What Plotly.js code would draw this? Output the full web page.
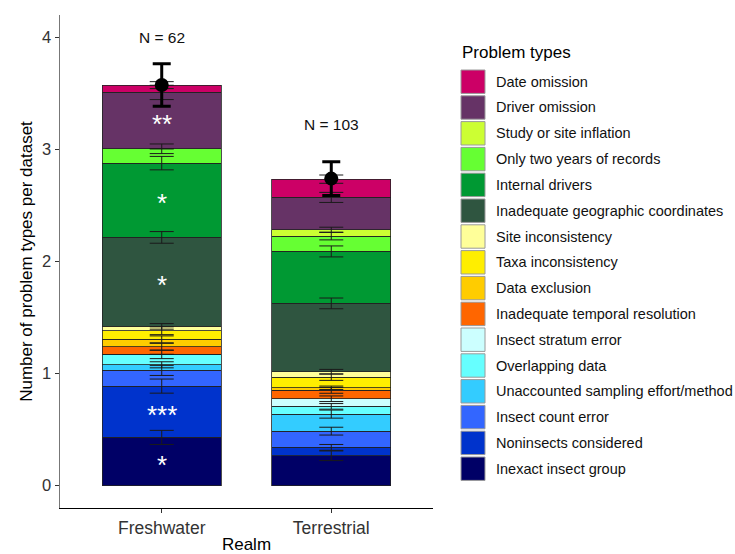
<!DOCTYPE html>
<html>
<head>
<meta charset="utf-8">
<script src="https://cdn.plot.ly/plotly-3.0.1.min.js"></script>
<style>html,body{margin:0;padding:0;background:#fff;}#chart{width:735px;height:554px;}</style>
</head>
<body>
<div id="chart"></div>
<script>
// ---- data (stack order: bottom to top) ----
const categories = ['Freshwater', 'Terrestrial'];
const problemTypes = [
  'Inexact insect group', 'Noninsects considered', 'Insect count error',
  'Unaccounted sampling effort/method', 'Overlapping data', 'Insect stratum error',
  'Inadequate temporal resolution', 'Data exclusion', 'Taxa inconsistency',
  'Site inconsistency', 'Inadequate geographic coordinates', 'Internal drivers',
  'Only two years of records', 'Study or site inflation', 'Driver omission', 'Date omission'
];
const typeColors = [
  '#000066', '#0033CC', '#3366FF', '#33CCFF', '#66FFFF', '#CCFFFF',
  '#FF6600', '#FFCC00', '#FFEE00', '#FFFF99', '#2F5540', '#009933',
  '#66FF33', '#CCFF33', '#663366', '#CC0066'
];
const freshwater = [0.430, 0.458, 0.140, 0.050, 0.093, 0.000, 0.068, 0.066, 0.077, 0.039, 0.794, 0.663, 0.128, 0.000, 0.503, 0.065];
const terrestrial = [0.266, 0.075, 0.145, 0.152, 0.069, 0.068, 0.075, 0.023, 0.095, 0.048, 0.610, 0.464, 0.137, 0.056, 0.289, 0.163];
const freshwaterErr = [0.063, 0.063, 0.045, 0.027, 0.038, 0.000, 0.031, 0.031, 0.035, 0.025, 0.052, 0.060, 0.043, 0.000, 0.064, 0.031];
const terrestrialErr = [0.043, 0.026, 0.035, 0.036, 0.025, 0.025, 0.026, 0.015, 0.029, 0.021, 0.048, 0.049, 0.034, 0.023, 0.045, 0.037];
const freshwaterSig = ['*', '***', '', '', '', '', '', '', '', '', '*', '*', '', '', '**', ''];
const terrestrialSig = ['', '', '', '', '', '', '', '', '', '', '', '', '', '', '', ''];
const totalMean = [3.575, 2.740];
const totalErr = [0.190, 0.150];
const nLabels = ['N = 62', 'N = 103'];
const nLabelY = [4.0, 3.22];

// ---- layout constants ----
const W = 735, H = 554;
const plotL = 60, plotR = 433, plotT = 15, plotB = 508;
const FONT = 'Liberation Sans, Arial, sans-serif';
const px2x = p => (p - plotL) / (plotR - plotL);
const px2y = p => (plotB - p) / (plotB - plotT);

const seriesByCat = [freshwater, terrestrial];
const errByCat = [freshwaterErr, terrestrialErr];
const sigByCat = [freshwaterSig, terrestrialSig];

const traces = problemTypes.map((name, i) => ({
  type: 'bar',
  name: name,
  x: categories,
  y: seriesByCat.map(s => s[i]),
  marker: { color: typeColors[i], line: { color: '#222', width: 0.8 } },
  showlegend: false,
  hoverinfo: 'skip'
}));

// error bars at the cumulative top of each segment
categories.forEach((cat, c) => {
  let acc = 0;
  const tops = seriesByCat[c].map(v => (acc += v));
  traces.push({
    type: 'scatter', mode: 'markers',
    x: tops.map(() => cat), y: tops,
    marker: { size: 1, color: 'rgba(0,0,0,0)' },
    error_y: { type: 'data', array: errByCat[c], color: '#1a1a1a', thickness: 1, width: 12 },
    showlegend: false, hoverinfo: 'skip'
  });
});

// overall mean and its error
traces.push({
  type: 'scatter', mode: 'markers',
  x: categories, y: totalMean,
  marker: { size: 14, color: '#000' },
  error_y: { type: 'data', array: totalErr, color: '#000', thickness: 3, width: 9 },
  showlegend: false, hoverinfo: 'skip'
});

const annotations = [];
const shapes = [];

// N labels
categories.forEach((cat, c) => {
  annotations.push({
    x: cat, y: nLabelY[c], xref: 'x', yref: 'y', text: nLabels[c], showarrow: false,
    font: { family: FONT, size: 15.5, color: '#111' }, xanchor: 'center', yanchor: 'middle'
  });
});

// significance asterisks at segment middles
categories.forEach((cat, c) => {
  let acc = 0;
  seriesByCat[c].forEach((v, i) => {
    const mid = acc + v / 2;
    acc += v;
    if (sigByCat[c][i]) {
      annotations.push({
        x: cat, y: mid, xref: 'x', yref: 'y', text: sigByCat[c][i], showarrow: false,
        font: { family: FONT, size: 26, color: '#fff' }, xanchor: 'center', yanchor: 'middle', yshift: -3
      });
    }
  });
});

// custom legend
annotations.push({
  x: px2x(460), y: px2y(53), xref: 'paper', yref: 'paper', text: 'Problem types', showarrow: false,
  font: { family: FONT, size: 17, color: '#000' }, xanchor: 'left', yanchor: 'middle'
});
const legendOrder = problemTypes.map((_, i) => i).reverse();
const keyTop = 70, keyStep = 25.8, keyH = 23.4, keyL = 461, keyR = 485;
legendOrder.forEach((idx, k) => {
  const t = keyTop + k * keyStep;
  shapes.push({
    type: 'rect', xref: 'paper', yref: 'paper',
    x0: px2x(keyL), x1: px2x(keyR), y0: px2y(t + keyH), y1: px2y(t),
    fillcolor: typeColors[idx], line: { color: '#9a9a9a', width: 1 }, layer: 'above'
  });
  annotations.push({
    x: px2x(493.5), y: px2y(t + keyH / 2), xref: 'paper', yref: 'paper', text: problemTypes[idx],
    showarrow: false, font: { family: FONT, size: 14.5, color: '#111' }, xanchor: 'left', yanchor: 'middle'
  });
});

const layout = {
  width: W, height: H,
  margin: { l: plotL, r: W - plotR, t: plotT, b: H - plotB, pad: 0 },
  paper_bgcolor: '#fff', plot_bgcolor: '#fff',
  barmode: 'stack', bargap: 0.3,
  showlegend: false,
  font: { family: FONT },
  xaxis: {
    type: 'category', range: [-0.6, 1.6],
    showline: true, linecolor: '#000', linewidth: 1,
    ticks: 'outside', ticklen: 4, tickcolor: '#333', tickwidth: 1,
    showgrid: false, zeroline: false,
    tickfont: { family: FONT, size: 17.5, color: '#333' },
    title: { text: 'Realm', font: { family: FONT, size: 17, color: '#000' }, standoff: 3 },
    automargin: false
  },
  yaxis: {
    range: [-0.2, 4.2],
    tickvals: [0, 1, 2, 3, 4], ticktext: ['0', '1', '2', '3', '4'],
    showline: true, linecolor: '#777', linewidth: 1.5,
    ticks: 'outside', ticklen: 4, tickcolor: '#333', tickwidth: 1,
    showgrid: false, zeroline: false,
    tickfont: { family: FONT, size: 16.5, color: '#333' },
    title: { text: 'Number of problem types per dataset', font: { family: FONT, size: 17, color: '#000' }, standoff: 5 },
    automargin: false
  },
  annotations: annotations,
  shapes: shapes
};

Plotly.newPlot('chart', traces, layout, { staticPlot: true, displayModeBar: false });
</script>
</body>
</html>
